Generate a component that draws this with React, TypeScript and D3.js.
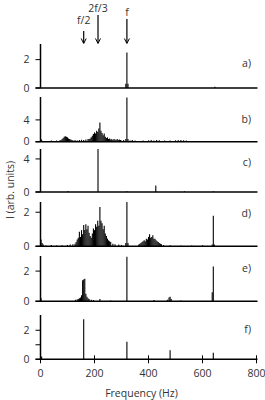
import * as d3 from "d3";

// frequency ticks (Hz)
const freqTicks = [0, 200, 400, 600, 800];

const panelNames = ["a)", "b)", "c)", "d)", "e)", "f)"];
const panelMax = [3.1, 8.2, 5.2, 2.6, 3.0, 3.05];
const panelTicks = [[0, 2], [0, 4], [0, 4], [0, 2], [0, 2], [0, 1, 2]];
const panelTickLabels = [["0", "2"], ["0", "4"], ["0", "4"], ["0", "2"], ["0", "2"], ["0", "", "2"]];

// spectra: [frequency Hz, intensity]
const specA: [number, number][] = [
  [316, 0.3], [320, 2.5], [324, 0.3], [646, 0.08],
];

const specB: [number, number][] = [
  [4, 0.4], [20, 0.15], [40, 0.2], [60, 0.2], [72, 0.25],
  [76, 0.3], [80, 0.5], [84, 0.7], [88, 0.9], [92, 1.0], [96, 0.9], [100, 0.8],
  [104, 0.6], [108, 0.5], [112, 0.4], [116, 0.3], [120, 0.25], [128, 0.3],
  [136, 0.2], [144, 0.3], [152, 0.35], [160, 0.3], [168, 0.4], [176, 0.5],
  [180, 0.5], [184, 0.6], [188, 0.8], [192, 1.1], [196, 1.4], [200, 1.7],
  [204, 1.5], [208, 2.0], [212, 1.8], [216, 2.4], [220, 3.5], [224, 2.0],
  [228, 1.6], [232, 1.2], [236, 1.5], [240, 0.9], [244, 0.7], [248, 0.8],
  [252, 0.5], [256, 0.6], [260, 0.4], [264, 0.5], [268, 0.3], [272, 0.5],
  [276, 0.4], [280, 0.3], [284, 0.5], [288, 0.3], [292, 0.4], [296, 0.3],
  [300, 0.2], [308, 0.3], [316, 0.5], [320, 8.1], [324, 0.5],
  [332, 0.2], [340, 0.3], [350, 0.2], [360, 0.15], [380, 0.2], [400, 0.25],
  [410, 0.3], [420, 0.2], [430, 0.3], [440, 0.25], [460, 0.2], [480, 0.2],
  [500, 0.25], [510, 0.3], [520, 0.3], [530, 0.25], [540, 0.2], [560, 0.15],
  [580, 0.15], [600, 0.1], [640, 0.15], [680, 0.1], [720, 0.1], [760, 0.1],
];

const specC: [number, number][] = [
  [102, 0.12], [213, 5.2], [320, 0.1], [427, 0.8], [533, 0.1], [640, 0.1],
];

const specD: [number, number][] = [
  [2, 0.4], [6, 0.2], [10, 0.1], [20, 0.05], [40, 0.08], [60, 0.05],
  [80, 0.06], [100, 0.08], [110, 0.1], [120, 0.12],
  [128, 0.15], [132, 0.25], [136, 0.4], [140, 0.5], [144, 0.85], [148, 0.55],
  [152, 0.95], [156, 0.7], [160, 1.25], [164, 0.95], [168, 1.3], [172, 1.0],
  [176, 1.2], [180, 0.8], [184, 0.6], [188, 0.5], [192, 0.75], [196, 1.05],
  [200, 0.95], [204, 1.3], [208, 1.15], [212, 1.5], [216, 1.2], [220, 2.3],
  [224, 1.5], [228, 1.35], [232, 1.0], [236, 1.2], [240, 0.75], [244, 0.6],
  [248, 0.45], [252, 0.35], [256, 0.3], [260, 0.25], [268, 0.15], [276, 0.12],
  [290, 0.1], [300, 0.08], [316, 0.2], [320, 2.6], [324, 0.2],
  [364, 0.1], [368, 0.15], [372, 0.2], [376, 0.25], [380, 0.3], [384, 0.35],
  [388, 0.3], [392, 0.45], [396, 0.4], [400, 0.55], [404, 0.7], [408, 0.5],
  [412, 0.55], [416, 0.65], [420, 0.45], [424, 0.45], [428, 0.35], [432, 0.3],
  [436, 0.25], [440, 0.2], [444, 0.15], [448, 0.12], [456, 0.08],
  [480, 0.06], [520, 0.05], [560, 0.05], [600, 0.06], [636, 0.1], [640, 1.8],
  [644, 0.1],
];

const specE: [number, number][] = [
  [2, 0.2], [130, 0.1], [136, 0.12], [140, 0.15], [144, 0.2], [148, 0.25],
  [152, 0.4], [156, 1.4], [160, 1.45], [164, 1.5], [168, 0.5], [172, 0.3],
  [176, 0.2], [180, 0.15], [188, 0.1], [196, 0.08], [220, 0.15], [260, 0.05],
  [320, 2.95], [420, 0.08], [470, 0.1], [476, 0.25], [480, 0.3], [484, 0.15],
  [520, 0.05], [636, 0.6], [640, 2.3],
];

const specF: [number, number][] = [
  [4, 0.2], [160, 2.75], [320, 1.2], [480, 0.62], [640, 0.45],
];

const spectra = [specA, specB, specC, specD, specE, specF];

// panel layout (px)
const panelTop = [44, 97, 149, 202, 256, 315];
const panelBase = [88, 141.7, 192, 246.3, 301.3, 359.3];
const labelY = [63, 119, 162, 213, 268, 329];

const arrowMarks = [
  { label: "f/2", f: 160, y0: 31, ty: 24 },
  { label: "2f/3", f: 213, y0: 15, ty: 12 },
  { label: "f", f: 320, y0: 19, ty: 16 },
];

const font = "'Open Sans', sans-serif";
const textColor = "#333";

export default function App() {
  const width = 265;
  const height = 400;

  const x = d3.scaleLinear().domain([0, 800]).range([40.5, 256.5]);

  return (
    <svg
      width={width}
      height={height}
      style={{ position: "absolute", left: 0, top: 0, background: "#fff" }}
      fontFamily={font}
    >
      {spectra.map((spec, i) => {
        const y = d3
          .scaleLinear()
          .domain([0, panelMax[i]])
          .range([panelBase[i], panelTop[i]]);
        return (
          <g key={i}>
            {spec.map(([f, v], j) => (
              <line
                key={j}
                x1={x(f)}
                x2={x(f)}
                y1={y(0)}
                y2={y(v)}
                stroke="#000"
                strokeWidth={1.1}
              />
            ))}
            {/* y axis */}
            <line x1={x(0)} x2={x(0)} y1={y(0)} y2={y(panelMax[i])} stroke="#000" strokeWidth={1.5} />
            {panelTicks[i].map((t, k) => (
              <g key={k} transform={`translate(0,${y(t)})`}>
                <line x1={x(0) - 5} x2={x(0)} stroke="#000" strokeWidth={1} />
                <text
                  x={29.5}
                  dy="0.35em"
                  textAnchor="end"
                  fontSize={10.5}
                  fill={textColor}
                >
                  {panelTickLabels[i][k]}
                </text>
              </g>
            ))}
            {/* baseline */}
            <line x1={x(0) - 5} x2={x(800) + 1} y1={y(0)} y2={y(0)} stroke="#000" strokeWidth={1.4} />
            <text x={251} y={labelY[i]} dy="0.35em" textAnchor="end" fontSize={10.5} fill={textColor}>
              {panelNames[i]}
            </text>
          </g>
        );
      })}

      {/* frequency axis */}
      {freqTicks.map((t) => (
        <g key={t} transform={`translate(${x(t)},${panelBase[5]})`}>
          <line y1={-4} y2={4} stroke="#000" strokeWidth={1} />
          <text y={14} dy="0.35em" textAnchor="middle" fontSize={10.5} fill={textColor}>
            {t}
          </text>
        </g>
      ))}
      <text x={141.5} y={393} dy="0.35em" textAnchor="middle" fontSize={10.5} fill={textColor}>
        Frequency (Hz)
      </text>
      <text
        transform="translate(10.5,190) rotate(-90)"
        dy="0.35em"
        textAnchor="middle"
        fontSize={10.5}
        fill={textColor}
      >
        I (arb. units)
      </text>

      {/* harmonic arrows */}
      {arrowMarks.map((a) => (
        <g key={a.label}>
          <text x={x(a.f)} y={a.ty} textAnchor="middle" fontSize={10.5} fill={textColor}>
            {a.label}
          </text>
          <line x1={x(a.f)} x2={x(a.f)} y1={a.y0} y2={43} stroke="#000" strokeWidth={1.2} />
          <path
            d={`M${x(a.f) - 2.5},${38.5}L${x(a.f)},${43.5}L${x(a.f) + 2.5},${38.5}`}
            fill="none"
            stroke="#000"
            strokeWidth={1}
          />
        </g>
      ))}
    </svg>
  );
}
